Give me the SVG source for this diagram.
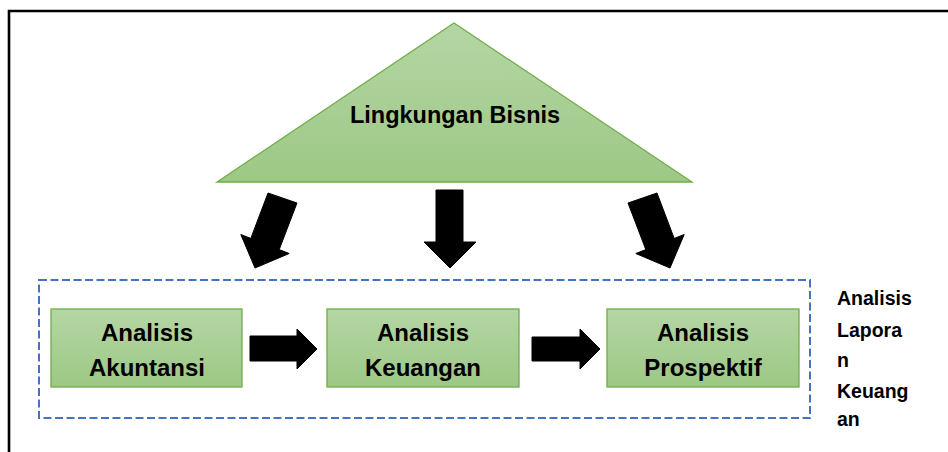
<svg xmlns="http://www.w3.org/2000/svg" width="948" height="452" viewBox="0 0 948 452">
  <style>
    .lbl { font-family: "Liberation Sans", Arial, sans-serif; font-weight: bold; fill: #000; }
    .box { fill: url(#greenGrad); stroke: #70AD47; stroke-width: 1.3; }
    .arrow { fill: #000; stroke: #000; stroke-width: 1; stroke-linejoin: round; }
  </style>
  <defs>
    <linearGradient id="greenGrad" x1="0" y1="0" x2="0" y2="1">
      <stop offset="0" stop-color="#B5D6A5"/>
      <stop offset="1" stop-color="#9CC885"/>
    </linearGradient>
  </defs>
  <rect width="948" height="452" fill="#fff"/>

  <!-- outer frame, open to the right and bottom -->
  <path d="M9 452 V11 H948" fill="none" stroke="#000" stroke-width="2.6"/>

  <!-- dashed boundary around the analysis steps -->
  <rect x="39" y="280" width="771" height="138" fill="none" stroke="#4472C4" stroke-width="2" stroke-dasharray="8 3.5"/>

  <g id="lingkungan-bisnis">
    <polygon class="box" points="454,23 692,182 217,182"/>
    <text class="lbl" x="455" y="123" font-size="23.5" text-anchor="middle">Lingkungan Bisnis</text>
  </g>

  <g id="analisis-akuntansi">
    <rect class="box" x="51" y="309" width="191" height="78"/>
    <text class="lbl" x="147" y="341" font-size="24" text-anchor="middle">Analisis</text>
    <text class="lbl" x="147" y="376" font-size="24" text-anchor="middle">Akuntansi</text>
  </g>

  <g id="analisis-keuangan">
    <rect class="box" x="327" y="309" width="192" height="78"/>
    <text class="lbl" x="423" y="341" font-size="24" text-anchor="middle">Analisis</text>
    <text class="lbl" x="423" y="376" font-size="24" text-anchor="middle">Keuangan</text>
  </g>

  <g id="analisis-prospektif">
    <rect class="box" x="607" y="309" width="192" height="78"/>
    <text class="lbl" x="703" y="341" font-size="24" text-anchor="middle">Analisis</text>
    <text class="lbl" x="703" y="376" font-size="24" text-anchor="middle">Prospektif</text>
  </g>

  <g id="analisis-laporan-keuangan">
    <text class="lbl" x="837" y="305" font-size="19.5">Analisis</text>
    <text class="lbl" x="837" y="337" font-size="19.5">Lapora</text>
    <text class="lbl" x="837" y="367" font-size="19.5">n</text>
    <text class="lbl" x="837" y="398" font-size="19.5">Keuang</text>
    <text class="lbl" x="837" y="426" font-size="19.5">an</text>
  </g>

  <g id="connectors">
    <!-- block arrows from the business environment down into the analysis -->
    <polygon class="arrow" points="268,193 297,203 279.2,249.6 289.2,253.5 255,268 240.8,234.5 250.8,238.4"/>
    <polygon class="arrow" points="436,190 463,190 463,242 476,242 450,268 424,242 436,242"/>
    <polygon class="arrow" points="657,193 628,203 645.8,249.6 635.8,253.5 670,268 684.2,234.5 674.2,238.4"/>
    <!-- block arrows between the analysis steps -->
    <polygon class="arrow" points="250,336 297,336 297,329 317,349 297,369 297,361 250,361"/>
    <polygon class="arrow" points="532,337 580,337 580,329 600,349 580,369 580,361 532,361"/>
  </g>
</svg>
